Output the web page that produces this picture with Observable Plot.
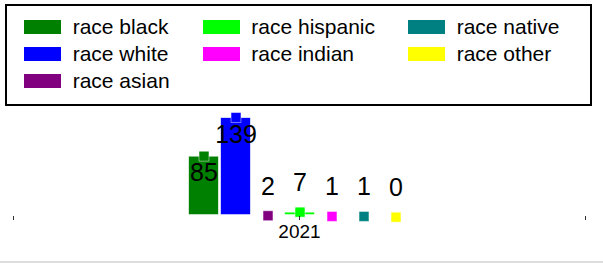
<!DOCTYPE html>
<html><head><meta charset="utf-8">
<script src="https://cdn.jsdelivr.net/npm/d3@7"></script>
<script src="https://cdn.jsdelivr.net/npm/@observablehq/plot@0.6"></script>
<style>
body{margin:0;background:#fff;font-family:"Liberation Sans",Arial,sans-serif;}
#legend{position:absolute;left:5px;top:4px;width:587px;height:102px;box-sizing:border-box;border:2px solid #000;padding:8px 0 0 17px;display:grid;grid-template-columns:auto auto auto;justify-content:start;column-gap:33px;grid-auto-rows:26.7px;font-size:21px;color:#000;}
.item{display:flex;align-items:center;white-space:nowrap;}
.sw{width:37px;height:14px;margin-right:11.7px;box-sizing:border-box;}
#chart{position:absolute;left:0;top:110px;}
#rule{position:absolute;left:0;top:261px;width:603px;height:2px;background:#ddd;}
</style></head><body>
<div id="legend"></div><div id="chart"></div><div id="rule"></div>
<script>
// categories, values, colours
const races = ["race black","race white","race asian","race hispanic","race indian","race native","race other"];
const counts = [85, 139, 2, 7, 1, 1, 0];
const colors = ["#008000","#0000ff","#800080","#00ff00","#ff00ff","#008080","#ffff00"];
const legendOrder = ["race black","race hispanic","race native","race white","race indian","race other","race asian"];
// x axis positions and tick labels
const years = [2020, 2021, 2022];
const yearLabels = ["", "2021", ""];
const dataYear = 2021;

const yBase = 5;      // value where the bars start
const insideMin = 20; // labels go inside bars above this value

const data = races.map((race, i) => ({year: dataYear, race, count: counts[i]}));

// legend
const legend = document.getElementById("legend");
for (const r of legendOrder) {
  const c = colors[races.indexOf(r)];
  const it = document.createElement("div");
  it.className = "item";
  it.innerHTML = `<span class="sw" style="background:${c};border:1px solid ${c}99"></span><span>${r}</span>`;
  legend.appendChild(it);
}

const tickFmt = d => yearLabels[years.indexOf(d)];
const hasAxisMarks = typeof Plot.axisFx === "function";
const common = {fx: "year", x: "race"};
const marks = [
  Plot.barY(data, {...common, y1: yBase, y2: "count", filter: d => d.count > yBase,
    fill: "race", stroke: "race", strokeOpacity: 0.35, strokeWidth: 1}),
  Plot.dot(data, {...common, y: "count", symbol: "square", r: 5.6, fill: "race",
    stroke: "white", strokeOpacity: 0.45, strokeWidth: 1, dy: -1}),
  Plot.text(data, {...common, y: "count", filter: d => d.count > insideMin, text: d => String(d.count),
    lineAnchor: "bottom", dy: 24, fontSize: 25, fill: "#000"}),
  Plot.text(data, {...common, y: "count", filter: d => d.count <= insideMin, text: d => String(d.count),
    lineAnchor: "bottom", dy: -22, fontSize: 25, fill: "#000"})
];
if (hasAxisMarks) {
  marks.push(Plot.axisFx({anchor: "bottom", tickSize: 4, tickPadding: 4, label: null,
    tickFormat: tickFmt, fontSize: 19, stroke: "#333"}));
}
const chart = Plot.plot({
  width: 603, height: 150,
  marginTop: 0, marginLeft: 0, marginRight: 0, marginBottom: 44,
  style: {fontFamily: "'Liberation Sans', Arial, sans-serif", fontSize: "19px", background: "white", color: "#000"},
  fx: {domain: years, range: [-104.8, 702.2], paddingInner: 0.188, paddingOuter: 0,
       axis: hasAxisMarks ? null : "bottom",
       tickSize: 4, tickPadding: 4, label: null, tickFormat: tickFmt},
  x: {domain: races, padding: 0.1, axis: null},
  y: {domain: [0, d3.max(counts)], range: [107.66, 8], axis: null},
  color: {domain: races, range: colors},
  marks
});
document.getElementById("chart").appendChild(chart);
</script>
</body></html>
